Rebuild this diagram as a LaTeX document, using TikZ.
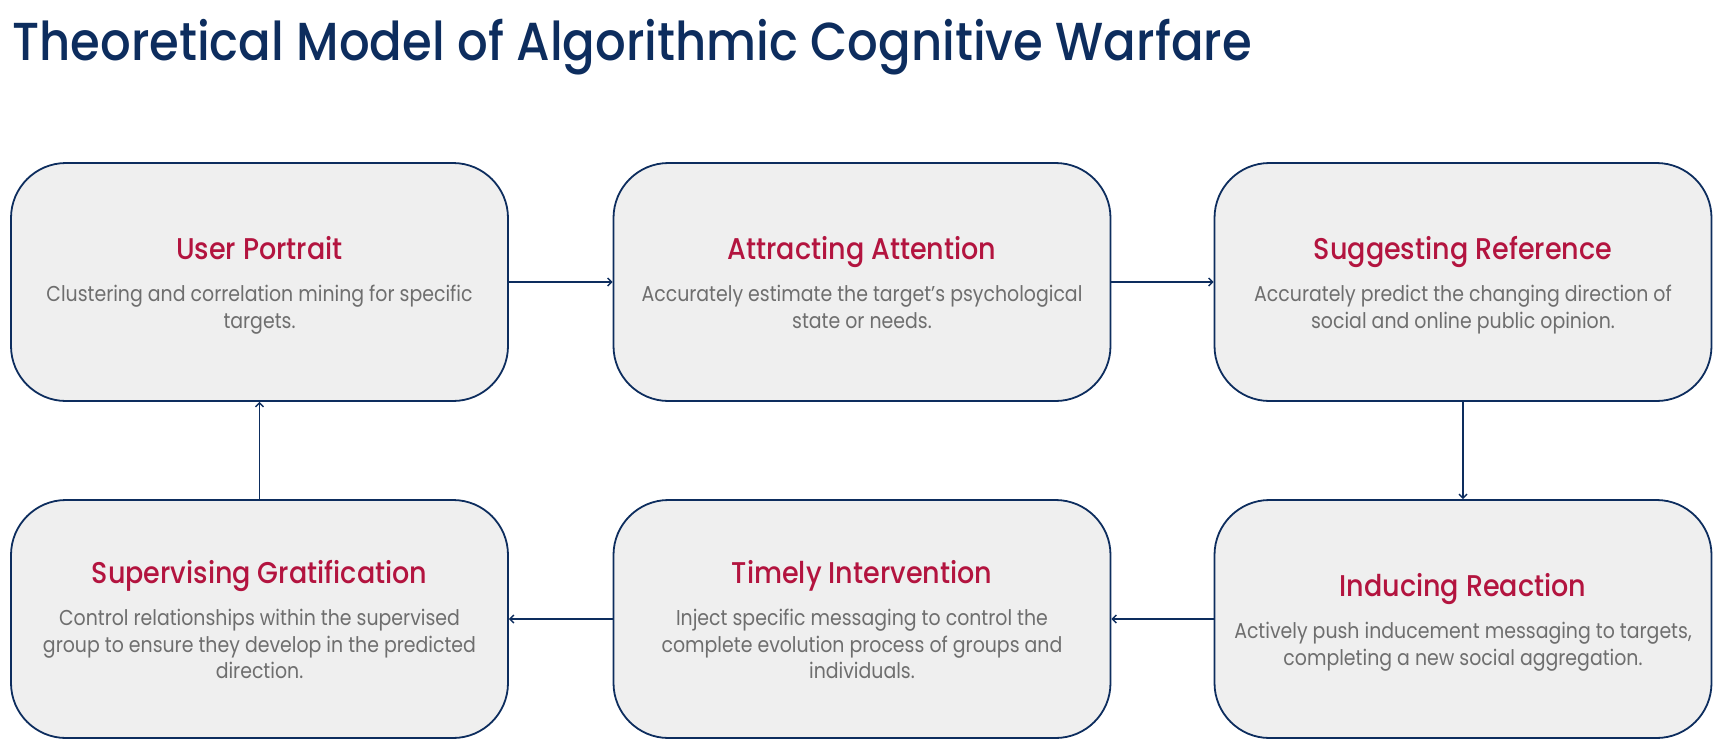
\documentclass[tikz,border=0pt]{standalone}
\usepackage{fontspec}
\setmainfont{Poppins}[FakeStretch=0.88]
\newfontfamily\headfont{Poppins Medium}[FakeStretch=0.9]
\usetikzlibrary{arrows.meta}
\definecolor{navy}{HTML}{0D2D5E}
\definecolor{crimson}{HTML}{B3143F}
\definecolor{bodygray}{HTML}{6E6E6E}
\definecolor{boxfill}{HTML}{EFEFEF}
\newcommand{\stagetitle}[1]{{\color{crimson}\headfont\fontsize{30}{26.3}\selectfont\rule[-7pt]{0pt}{37pt}#1}}
\newcommand{\laststrut}{\rule[-6pt]{0pt}{6pt}}
\newcommand{\stagebody}{\fontsize{21.5}{26.3}\selectfont}
\begin{document}
\begin{tikzpicture}[x=1pt,y=-1pt,
  stage/.style={draw=navy, line width=1.8pt, fill=boxfill, rounded corners=55pt,
    minimum width=497pt, minimum height=238pt, align=center, inner sep=0pt,
    font=\stagebody, text=bodygray},
  flow/.style={draw=navy, line width=1.4pt, -{Straight Barb[length=4pt,width=8pt]}},
  heading/.style={anchor=base west, inner sep=0pt, text=navy, font=\headfont\fontsize{53.5}{60}\selectfont}
  ]
\useasboundingbox (0,0) rectangle (1714,740);
\node[heading] (title) at (12,60) {Theoretical Model of Algorithmic Cognitive Warfare};

\node[stage] (up) at (259.5,282) {\stagetitle{User Portrait}\\[15.7pt]Clustering and correlation mining for specific\\ targets.\laststrut};
\node[stage] (aa) at (862,282) {\stagetitle{Attracting Attention}\\[15.7pt]Accurately estimate the target's psychological\\ state or needs.\laststrut};
\node[stage] (sr) at (1463,282) {\stagetitle{Suggesting Reference}\\[15.7pt]Accurately predict the changing direction of\\ social and online public opinion.\laststrut};
\node[stage] (sg) at (259.5,619) {\stagetitle{Supervising Gratification}\\[15.7pt]Control relationships within the supervised\\ group to ensure they develop in the predicted\\ direction.\laststrut};
\node[stage] (ti) at (862,619) {\stagetitle{Timely Intervention}\\[15.7pt]Inject specific messaging to control the\\ complete evolution process of groups and\\ individuals.\laststrut};
\node[stage] (ir) at (1463,619) {\stagetitle{Inducing Reaction}\\[15.7pt]Actively push inducement messaging to targets,\\ completing a new social aggregation.\laststrut};

\draw[flow] (up.east) -- (aa.west);
\draw[flow] (aa.east) -- (sr.west);
\draw[flow] (sr.south) -- (ir.north);
\draw[flow] (ir.west) -- (ti.east);
\draw[flow] (ti.west) -- (sg.east);
\draw[flow] (sg.north) -- (up.south);
\end{tikzpicture}
\end{document}
